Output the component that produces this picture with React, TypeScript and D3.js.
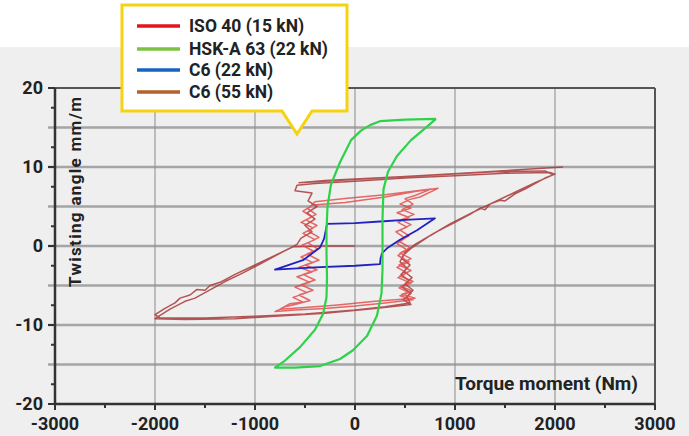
import React from 'react';
import * as d3 from 'd3';

type P = [number, number];

const xTicks = [-3000, -2000, -1000, 0, 1000, 2000, 3000];
const yTicks = [20, 10, 0, -10, -20];
const xGrid = [-2000, -1000, 0, 1000, 2000];
const yGrid = [15, 10, 5, 0, -5, -10, -15];
const xMinor = [-2500, -1500, -500, 500, 1500, 2500];
const yMinor = [17.5, 12.5, 7.5, 2.5, -2.5, -7.5, -12.5, -17.5];

const legendLabels = ['ISO 40 (15 kN)', 'HSK-A 63 (22 kN)', 'C6 (22 kN)', 'C6 (55 kN)'];
const legendColors = ['#e3141b', '#7dc242', '#1565c0', '#b3622b'];

// HSK-A 63 (22 kN) – torque (Nm), twisting angle (mm/m)
const hskA63: P[] = [
  [810, 16.1], [500, 16.0], [250, 15.8], [150, 15.3], [60, 14.6], [-40, 13.4], [-150, 10.6],
  [-240, 7.8], [-275, 5.0], [-285, 2.0], [-285, -1.0], [-280, -4.0], [-285, -6.5], [-320, -8.6],
  [-400, -10.6], [-550, -12.8], [-700, -14.5], [-800, -15.4], [-600, -15.4], [-350, -15.2],
  [-150, -14.3], [-20, -13.2], [120, -11.4], [220, -8.8], [265, -6.0], [275, -3.0], [275, 0.0],
  [275, 3.5], [285, 7.2], [330, 9.4], [420, 11.4], [560, 13.4], [700, 14.9], [810, 16.1],
];

// C6 (22 kN)
const c6_22: P[] = [
  [-280, 2.8], [0, 2.9], [250, 3.1], [500, 3.3], [800, 3.5], [620, 2.0], [450, 0.8], [320, -0.3],
  [270, -0.9], [255, -1.6], [250, -2.3], [0, -2.5], [-400, -2.7], [-800, -3.0], [-520, -1.8],
  [-350, -0.2], [-310, 0.9], [-295, 1.8], [-280, 2.8],
];

// ISO 40 (15 kN)
const iso40: P[] = [
  [-420, 5.2], [-100, 5.5], [300, 6.2], [600, 6.9], [830, 7.3], [650, 6.2], [550, 5.9], [450, 5.3],
  [560, 4.8], [420, 4.2], [540, 3.6], [430, 3.0], [520, 2.4], [410, 1.8], [500, 1.0], [420, 0.3],
  [520, -0.5], [430, -1.2], [540, -2.0], [420, -2.7], [520, -3.4], [430, -4.0], [560, -4.7],
  [440, -5.3], [540, -5.9], [450, -6.3], [580, -6.8], [300, -7.2], [0, -7.6], [-300, -7.9],
  [-600, -8.1], [-800, -8.3], [-700, -7.7], [-600, -7.4], [-450, -6.9], [-560, -6.2], [-420, -5.6],
  [-540, -4.9], [-400, -4.3], [-520, -3.6], [-380, -3.0], [-500, -2.4], [-360, -1.8], [-480, -1.0],
  [-370, -0.4], [-470, 0.4], [-360, 1.1], [-470, 1.9], [-380, 2.6], [-490, 3.3], [-390, 4.0],
  [-470, 4.7], [-400, 5.6], [-100, 6.0], [300, 6.5], [620, 7.0], [760, 7.2], [600, 6.4], [500, 6.0],
  [580, 5.3], [470, 4.6], [590, 4.0], [460, 3.3], [560, 2.7], [450, 2.0], [540, 1.3], [440, 0.6],
  [550, -0.2], [450, -0.9], [560, -1.6], [440, -2.4], [560, -3.1], [450, -3.8], [580, -4.5],
  [460, -5.1], [570, -5.7], [470, -6.1], [600, -6.6], [200, -7.0], [-200, -7.5], [-500, -7.8],
  [-750, -8.0], [-650, -7.3], [-520, -7.1], [-620, -6.5], [-480, -5.9], [-600, -5.2], [-450, -4.6],
  [-580, -3.9], [-430, -3.3], [-560, -2.7], [-420, -2.1], [-540, -1.4], [-410, -0.7], [-530, 0.1],
  [-400, 0.8], [-520, 1.6], [-420, 2.3], [-540, 3.0], [-430, 3.7], [-520, 4.4], [-420, 5.2],
];

// C6 (55 kN)
const c6_55: P[] = [
  [0, 0.0], [-300, 0.0], [-620, -0.1], [-800, -1.2], [-1000, -2.4], [-1200, -3.6], [-1350, -4.6],
  [-1450, -5.0], [-1500, -5.6], [-1580, -5.5], [-1650, -6.2], [-1750, -6.6], [-1800, -7.2],
  [-1900, -7.9], [-2000, -8.7], [-1950, -9.1], [-1500, -9.1], [-1000, -8.9], [-500, -8.6],
  [0, -8.1], [300, -7.7], [550, -7.2], [520, -6.4], [580, -5.6], [500, -4.8], [570, -4.0],
  [490, -3.2], [550, -2.4], [470, -1.6], [500, -0.8], [600, 0.2], [800, 1.7], [1000, 3.0],
  [1150, 4.0], [1250, 4.8], [1300, 4.6], [1350, 5.3], [1450, 5.8], [1500, 5.7], [1600, 6.6],
  [1700, 7.2], [1800, 7.9], [1900, 8.6], [2000, 9.1], [1950, 9.3], [1500, 9.2], [1000, 8.9],
  [500, 8.6], [0, 8.2], [-400, 7.9], [-580, 7.7], [-600, 7.0], [-430, 6.7], [-470, 5.7],
  [-380, 5.0], [-480, 4.2], [-400, 3.4], [-500, 2.6], [-430, 1.8], [-540, 1.0], [-580, 0.2],
  [-760, -1.0], [-950, -2.3], [-1150, -3.6], [-1300, -4.5], [-1500, -5.9], [-1600, -6.6],
  [-1700, -7.0], [-1850, -8.0], [-2000, -9.2], [-1700, -9.3], [-1200, -9.2], [-800, -8.9],
  [-300, -8.5], [200, -7.9], [560, -7.4], [480, -6.8], [560, -6.0], [470, -5.2], [540, -4.4],
  [460, -3.6], [520, -2.8], [450, -2.0], [480, -1.2], [560, -0.3], [750, 1.3], [950, 2.8],
  [1200, 4.4], [1400, 5.6], [1600, 6.8], [1800, 8.0], [1980, 9.0], [1900, 9.5], [1400, 9.4],
  [800, 9.0], [200, 8.6], [-300, 8.3], [-560, 8.0], [-300, 8.2], [500, 8.8], [1200, 9.3], [2080, 10.0],
];

const FONT = 'Roboto, "Noto Sans", sans-serif';

export default function App() {
  const x = d3.scaleLinear().domain([-3000, 3000]).range([55, 655]);
  const y = d3.scaleLinear().domain([-20, 20]).range([404, 88]);
  const line = d3.line<P>().x((d) => x(d[0])).y((d) => y(d[1]));
  const [x0, x1] = x.range();
  const [yb, yt] = y.range();

  return (
    <svg width={689} height={436} style={{ position: 'absolute', left: 0, top: 0 }}>
      <rect x={0} y={0} width={689} height={436} fill="#ffffff" />
      <rect x={0} y={47} width={689} height={389} fill="#efefef" />
      <defs>
        <filter id="soft" x="-5%" y="-5%" width="110%" height="110%">
          <feGaussianBlur stdDeviation="0.35" />
        </filter>
      </defs>
      {/* grid */}
      {yGrid.map((v) => (
        <line key={'hy' + v} x1={x0 - 7} x2={x1} y1={y(v)} y2={y(v)} stroke="#999" strokeWidth={2.4} opacity={0.85} />
      ))}
      {xGrid.map((v) => (
        <line key={'vx' + v} x1={x(v)} x2={x(v)} y1={yt} y2={yb + 5} stroke="#8e8e8e" strokeWidth={1.3} opacity={0.8} />
      ))}
      {/* minor ticks */}
      {yMinor.map((v) => (
        <line key={'my' + v} x1={x0 - 4} x2={x0} y1={y(v)} y2={y(v)} stroke="#333" strokeWidth={2} />
      ))}
      {xMinor.map((v) => (
        <line key={'mx' + v} x1={x(v)} x2={x(v)} y1={yb} y2={yb + 4} stroke="#333" strokeWidth={2} />
      ))}
      {yTicks.map((v) => (
        <line key={'ty' + v} x1={x0 - 7} x2={x0} y1={y(v)} y2={y(v)} stroke="#333" strokeWidth={2} />
      ))}
      {xTicks.map((v) => (
        <line key={'tx' + v} x1={x(v)} x2={x(v)} y1={yb} y2={yb + 6} stroke="#333" strokeWidth={2} />
      ))}
      {/* data */}
      <g filter="url(#soft)" fill="none" strokeLinejoin="round">
        <path d={line(c6_55) || ''} stroke="#a83b3b" strokeWidth={1.5} opacity={0.85} />
        <path d={line(iso40) || ''} stroke="#e04545" strokeWidth={1.5} opacity={0.8} />
        <path d={line(c6_22) || ''} stroke="#2222c0" strokeWidth={1.8} />
        <path d={line(hskA63) || ''} stroke="#2ed24a" strokeWidth={2.2} />
      </g>
      {/* frame */}
      <line x1={x0} x2={x1} y1={yt} y2={yt} stroke="#555" strokeWidth={2} />
      <line x1={x1} x2={x1} y1={yt} y2={yb} stroke="#555" strokeWidth={2} />
      <line x1={x0} x2={x0} y1={yt} y2={yb} stroke="#333" strokeWidth={2.5} />
      <line x1={x0} x2={x1} y1={yb} y2={yb} stroke="#333" strokeWidth={2.5} />
      {/* tick labels */}
      {yTicks.map((v) => (
        <text key={'ly' + v} x={43} y={y(v) + 6} textAnchor="end" fontFamily={FONT} fontWeight={700} fontSize={18} fill="#222">
          {v}
        </text>
      ))}
      {xTicks.map((v) => (
        <text key={'lx' + v} x={x(v)} y={430} textAnchor="middle" fontFamily={FONT} fontWeight={700} fontSize={18} fill="#222">
          {v}
        </text>
      ))}
      {/* axis titles */}
      <text
        transform="translate(81,287) rotate(-90)"
        fontFamily={FONT}
        fontWeight={700}
        fontSize={17}
        fill="#222"
        textLength={190}
        lengthAdjust="spacing"
      >
        Twisting angle mm/m
      </text>
      <text
        x={455}
        y={390}
        fontFamily={FONT}
        fontWeight={700}
        fontSize={18}
        fill="#222"
        textLength={183}
        lengthAdjust="spacingAndGlyphs"
      >
        Torque moment (Nm)
      </text>
      {/* legend callout */}
      <path d="M122,5 L347,5 L347,111 L312,111 L297,134 L282,111 L122,111 Z" fill="#fff" stroke="#f5d30f" strokeWidth={3} />
      {legendLabels.map((lab, i) => {
        const ly = [26, 49, 70, 92][i];
        return (
          <g key={lab}>
            <line x1={137} x2={180} y1={ly} y2={ly} stroke={legendColors[i]} strokeWidth={3.5} />
            <text x={189} y={ly + 6} fontFamily={FONT} fontWeight={700} fontSize={17.5} fill="#222">
              {lab}
            </text>
          </g>
        );
      })}
    </svg>
  );
}
